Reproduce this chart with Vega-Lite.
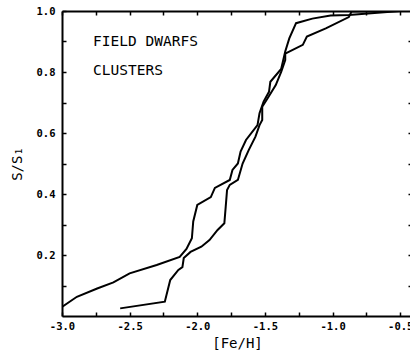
{
  "$schema": "https://vega.github.io/schema/vega-lite/v6.json",
  "width": 350,
  "height": 305,
  "autosize": {"type": "none"},
  "padding": {"left": 62, "top": 11, "right": 0, "bottom": 39},
  "background": "white",
  "config": {
    "view": {"stroke": null},
    "axis": {"grid": false, "domainColor": "black", "domainWidth": 2, "tickColor": "black", "tickWidth": 1.5,
      "labelFont": "DejaVu Sans Mono", "labelFontWeight": "bold", "labelColor": "black", "labelFontSize": 10.5,
      "titleFont": "DejaVu Sans Mono", "titleFontWeight": "normal", "titleColor": "black", "titleFontSize": 14}
  },
  "datasets": {
    "curves": [
      {"series": "A", "i": 1, "x": -3.0, "y": 0.03},
      {"series": "A", "i": 2, "x": -2.89, "y": 0.063},
      {"series": "A", "i": 3, "x": -2.74, "y": 0.09},
      {"series": "A", "i": 4, "x": -2.62, "y": 0.11},
      {"series": "A", "i": 5, "x": -2.5, "y": 0.14},
      {"series": "A", "i": 6, "x": -2.3, "y": 0.167},
      {"series": "A", "i": 7, "x": -2.13, "y": 0.194},
      {"series": "A", "i": 8, "x": -2.08, "y": 0.22},
      {"series": "A", "i": 9, "x": -2.04, "y": 0.255},
      {"series": "A", "i": 10, "x": -2.03, "y": 0.31},
      {"series": "A", "i": 11, "x": -2.0, "y": 0.364},
      {"series": "A", "i": 12, "x": -1.9, "y": 0.39},
      {"series": "A", "i": 13, "x": -1.87, "y": 0.42},
      {"series": "A", "i": 14, "x": -1.76, "y": 0.446},
      {"series": "A", "i": 15, "x": -1.74, "y": 0.479},
      {"series": "A", "i": 16, "x": -1.7, "y": 0.5},
      {"series": "A", "i": 17, "x": -1.68, "y": 0.539},
      {"series": "A", "i": 18, "x": -1.64, "y": 0.577},
      {"series": "A", "i": 19, "x": -1.555, "y": 0.626},
      {"series": "A", "i": 20, "x": -1.54, "y": 0.665},
      {"series": "A", "i": 21, "x": -1.51, "y": 0.703},
      {"series": "A", "i": 22, "x": -1.47, "y": 0.735},
      {"series": "A", "i": 23, "x": -1.46, "y": 0.768},
      {"series": "A", "i": 24, "x": -1.38, "y": 0.81},
      {"series": "A", "i": 25, "x": -1.35, "y": 0.867},
      {"series": "A", "i": 26, "x": -1.32, "y": 0.91},
      {"series": "A", "i": 27, "x": -1.27, "y": 0.96},
      {"series": "A", "i": 28, "x": -1.15, "y": 0.975},
      {"series": "A", "i": 29, "x": -1.015, "y": 0.985},
      {"series": "A", "i": 30, "x": -0.88, "y": 0.987},
      {"series": "A", "i": 31, "x": -0.5, "y": 1.0},
      {"series": "B", "i": 1, "x": -2.57, "y": 0.025},
      {"series": "B", "i": 2, "x": -2.24, "y": 0.047},
      {"series": "B", "i": 3, "x": -2.2, "y": 0.118},
      {"series": "B", "i": 4, "x": -2.14, "y": 0.151},
      {"series": "B", "i": 5, "x": -2.11, "y": 0.16},
      {"series": "B", "i": 6, "x": -2.1, "y": 0.19},
      {"series": "B", "i": 7, "x": -2.05, "y": 0.21},
      {"series": "B", "i": 8, "x": -1.97, "y": 0.227},
      {"series": "B", "i": 9, "x": -1.91, "y": 0.249},
      {"series": "B", "i": 10, "x": -1.85, "y": 0.282},
      {"series": "B", "i": 11, "x": -1.8, "y": 0.304},
      {"series": "B", "i": 12, "x": -1.79, "y": 0.358},
      {"series": "B", "i": 13, "x": -1.78, "y": 0.413},
      {"series": "B", "i": 14, "x": -1.76, "y": 0.43},
      {"series": "B", "i": 15, "x": -1.7, "y": 0.446},
      {"series": "B", "i": 16, "x": -1.665, "y": 0.5},
      {"series": "B", "i": 17, "x": -1.62, "y": 0.544},
      {"series": "B", "i": 18, "x": -1.57, "y": 0.588},
      {"series": "B", "i": 19, "x": -1.54, "y": 0.626},
      {"series": "B", "i": 20, "x": -1.52, "y": 0.643},
      {"series": "B", "i": 21, "x": -1.52, "y": 0.686},
      {"series": "B", "i": 22, "x": -1.48, "y": 0.714},
      {"series": "B", "i": 23, "x": -1.42, "y": 0.757},
      {"series": "B", "i": 24, "x": -1.38, "y": 0.8},
      {"series": "B", "i": 25, "x": -1.35, "y": 0.839},
      {"series": "B", "i": 26, "x": -1.35, "y": 0.86},
      {"series": "B", "i": 27, "x": -1.22, "y": 0.889},
      {"series": "B", "i": 28, "x": -1.19, "y": 0.916},
      {"series": "B", "i": 29, "x": -1.05, "y": 0.943},
      {"series": "B", "i": 30, "x": -0.88, "y": 0.98},
      {"series": "B", "i": 31, "x": -0.86, "y": 0.998},
      {"series": "B", "i": 32, "x": -0.5, "y": 1.0}
    ],
    "labels": [
      {"label": "FIELD DWARFS", "x": -2.77, "y": 0.897},
      {"label": "CLUSTERS", "x": -2.77, "y": 0.803}
    ]
  },
  "layer": [
    {
      "data": {"name": "curves"},
      "mark": {"type": "line", "color": "black", "strokeWidth": 2, "clip": true},
      "encoding": {
        "x": {"field": "x", "type": "quantitative", "scale": {"domain": [-3.0, -0.413], "nice": false, "zero": false},
          "axis": {"title": "[Fe/H]", "titleColor": "black", "values": [-3.0, -2.75, -2.5, -2.25, -2.0, -1.75, -1.5, -1.25, -1.0, -0.75, -0.5],
            "labelExpr": "(datum.value * 4) % 2 == 0 ? replace(format(datum.value, '.1f'), '\u2212', '-') : ''",
            "tickSize": -4, "labelPadding": 9, "titlePadding": 5, "labelFlush": false}},
        "y": {"field": "y", "type": "quantitative", "scale": {"domain": [0, 1], "nice": false},
          "axis": {"title": "S/S\u2081", "titleColor": "#000000", "values": [0.1, 0.2, 0.3, 0.4, 0.5, 0.6, 0.7, 0.8, 0.9, 1.0],
            "labelExpr": "(round(datum.value * 10)) % 2 == 0 ? format(datum.value, '.1f') : ''",
            "tickSize": -4, "labelPadding": 11, "titlePadding": 12, "labelFlush": false}},
        "detail": {"field": "series"},
        "order": {"field": "i", "type": "quantitative"}
      }
    },
    {
      "data": {"name": "labels"},
      "mark": {"type": "text", "align": "left", "baseline": "middle", "font": "DejaVu Sans Mono", "fontSize": 14.5, "color": "black"},
      "encoding": {
        "x": {"field": "x", "type": "quantitative", "axis": {"orient": "top", "title": null, "labels": false, "values": [-3.0, -2.75, -2.5, -2.25, -2.0, -1.75, -1.5, -1.25, -1.0, -0.75, -0.5], "tickSize": -4}},
        "y": {"field": "y", "type": "quantitative", "axis": {"orient": "right", "title": null, "labels": false, "values": [0.1, 0.2, 0.3, 0.4, 0.5, 0.6, 0.7, 0.8, 0.9], "tickSize": -4}},
        "text": {"field": "label"}
      }
    }
  ],
  "resolve": {"axis": {"x": "independent", "y": "independent"}}
}
